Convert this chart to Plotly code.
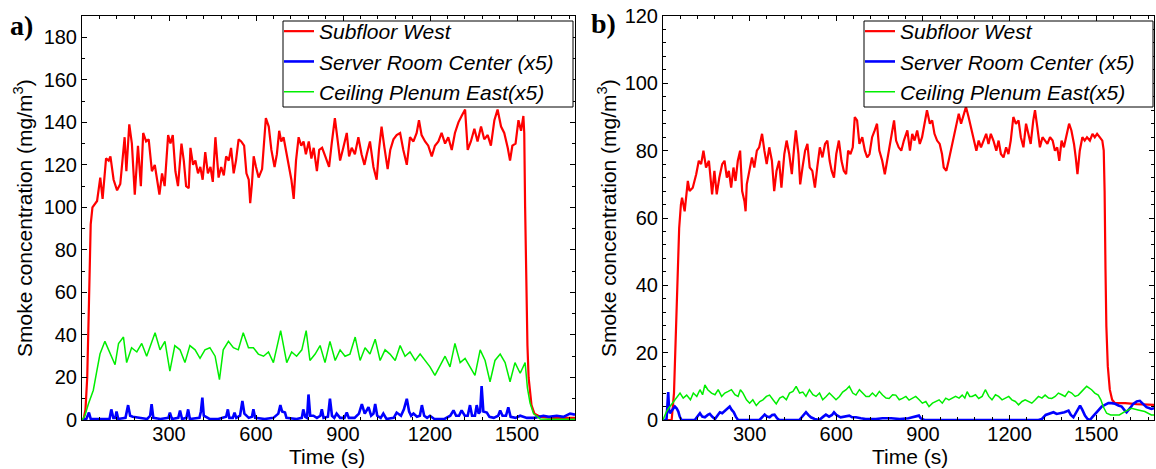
import plotly.graph_objects as go

# ---------------- data ----------------
# Panel a) Subfloor West
a_red_t = [0, 5, 12, 18, 24, 30, 36, 52, 63, 71, 83, 92, 98, 109, 121, 132, 147, 153, 163, 172, 182, 193, 203, 211, 221, 230,
           241, 251, 259, 267, 276, 285, 297, 305, 313, 322, 331, 343, 351, 359, 368, 374, 383, 391, 400, 408, 416, 425, 434,
           443, 451, 460, 471, 480, 489, 497, 506, 514, 523, 531, 540, 549, 559, 567, 575, 580, 586, 592, 600, 609, 621, 628,
           634, 644, 653, 664, 672, 680, 687, 695, 703, 713, 722, 730, 738, 747, 756, 764, 772, 782, 791, 799, 810, 818, 828,
           839, 852, 861, 872, 882, 890, 901, 913, 921, 930, 941, 953, 964, 974, 982, 993, 1005, 1016, 1024, 1033, 1043, 1054,
           1063, 1074, 1085, 1097, 1108, 1120, 1131, 1143, 1154, 1162, 1171, 1183, 1194, 1206, 1217, 1229, 1240, 1252, 1263,
           1275, 1286, 1298, 1309, 1321, 1330, 1341, 1353, 1364, 1376, 1387, 1399, 1410, 1422, 1433, 1445, 1456, 1468, 1476,
           1484, 1495, 1505, 1514, 1522, 1525, 1528, 1532, 1536, 1540, 1550, 1560, 1580, 1620, 1660, 1700]
a_red_v = [0, 0, 5, 20, 55, 92, 100, 103, 114, 104, 123, 122, 124, 113, 108, 111, 133, 117, 139, 130, 106, 129, 110, 135, 131, 132,
           117, 120, 113, 106, 116, 110, 134, 130, 134, 117, 110, 130, 122, 110, 109, 128, 120, 122, 116, 119, 113, 126, 116,
           119, 112, 133, 114, 119, 115, 124, 122, 128, 116, 122, 132, 131, 129, 116, 113, 102, 111, 124, 119, 114, 118, 131,
           142, 138, 127, 119, 125, 136, 131, 133, 127, 119, 113, 104, 122, 133, 129, 131, 125, 131, 123, 128, 117, 127, 128,
           124, 119, 130, 142, 131, 122, 128, 135, 124, 128, 125, 133, 125, 120, 125, 131, 119, 113, 127, 138, 128, 118,
           127, 132, 134, 135, 127, 120, 133, 131, 135, 141, 134, 131, 129, 124, 129, 131, 135, 130, 133,
           127, 135, 140, 143, 146, 127, 131, 137, 131, 138, 132, 134, 129, 141, 146, 138, 135, 128, 122,
           129, 130, 141, 136, 143, 135, 100, 65, 35, 20, 7, 3, 1.5, 1, 1, 1]

# Panel a) Server Room Center (x5)
a_blue_t = [0, 15, 24, 30, 60, 95, 101, 108, 115, 119, 125, 150, 159, 166, 175, 195, 225, 235, 240, 246, 270, 298, 303, 310, 332,
            338, 345, 360, 366, 372, 405, 410, 415, 420, 440, 470, 490, 497, 503, 508, 520, 526, 532, 545, 553, 560, 575, 586,
            591, 597, 630, 660, 677, 684, 690, 700, 705, 740, 758, 763, 770, 776, 781, 787, 798, 810, 822, 827, 833, 848, 855,
            862, 870, 878, 890, 905, 913, 920, 940, 955, 965, 975, 988, 997, 1005, 1011, 1018, 1030, 1039, 1050, 1075, 1085,
            1100, 1110, 1120, 1128, 1135, 1143, 1155, 1165, 1172, 1180, 1190, 1200, 1215, 1250, 1270, 1281, 1290, 1300, 1309,
            1320, 1330, 1338, 1345, 1355, 1361, 1368, 1373, 1378, 1384, 1396, 1405, 1420, 1435, 1442, 1450, 1462, 1470, 1478,
            1495, 1511, 1534, 1560, 1591, 1610, 1637, 1660, 1683, 1700]
a_blue_v = [0, 0.5, 3.5, 0.5, 0.5, 0.5, 5, 1, 1, 4, 0.5, 1, 7, 2, 1.5, 1, 0.5, 2, 7.5, 1, 0.5, 1, 3.5, 0.5, 1,
            4.5, 0.5, 1, 5, 0.5, 1, 4, 10.5, 2, 0.5, 0.5, 1, 1.5, 5, 1, 1, 3.5, 1, 2, 9, 3, 1, 1.5,
            5, 1, 0.5, 1, 3, 7, 4, 3.5, 1, 0.5, 1, 5, 1.5, 1, 12, 2, 2, 1, 2, 5, 1, 1.5, 10,
            2, 1, 3, 1, 1, 3.5, 1, 1, 3, 7.5, 3, 6, 2, 3, 7.5, 2, 1, 3, 0.5, 1, 3.5,
            2, 5, 10, 4, 2, 3, 1.5, 2, 7, 2, 1, 2, 0.5, 0.5, 2, 4.5, 2, 2, 4.5,
            2, 2, 7, 2, 2, 7, 3, 4, 16, 4, 3.5, 1.5, 1, 2, 4.5, 2, 2, 6, 1.5,
            1, 2, 1, 1, 2, 1.5, 2, 1.5, 3, 2.5]

# Panel a) Ceiling Plenum East (x5)
a_green_t = [0, 10, 22, 39, 51, 62, 79, 97, 114, 126, 143, 154, 171, 189, 206, 223, 240, 252, 269, 286, 303, 320, 338, 355, 372,
             390, 407, 424, 441, 459, 474, 487, 505, 522, 539, 556, 574, 591, 608, 626, 643, 660, 685, 706, 723, 740, 758, 773,
             786, 804, 821, 838, 855, 873, 890, 907, 924, 942, 959, 976, 993, 1011, 1028, 1045, 1062, 1080, 1097, 1114, 1131,
             1149, 1166, 1183, 1200, 1217, 1235, 1252, 1269, 1286, 1304, 1321, 1338, 1355, 1373, 1390, 1407, 1424, 1442, 1459,
             1476, 1493, 1511, 1528, 1536, 1545, 1557, 1580, 1620, 1700]
a_green_v = [0, 2, 7.5, 14, 23, 31, 37, 31, 26, 36, 39, 27, 34, 32, 36, 30, 36, 41, 33, 37, 23, 35, 33, 27, 35,
             33, 29, 33, 34, 30, 19, 33, 37, 34, 33, 41, 34, 34, 31, 30, 32, 27, 42, 27, 32, 30, 33, 42,
             28, 31, 35, 27, 37, 28, 33, 30, 31, 39, 28, 34, 31, 38, 28, 33, 31, 28, 35, 30, 32,
             28, 31, 28, 25, 21, 26, 30, 25, 36, 27, 29, 25, 21, 33, 28, 18, 28, 31, 27,
             18, 27, 22, 27, 15, 8, 3, 0.5, 0.3, 0.3]

# Panel b) Subfloor West
b_red_t = [0, 10, 30, 38, 45, 50, 56, 62, 66, 75, 86, 92, 103, 115, 124, 132, 140, 149, 159, 170, 178, 186, 195, 205, 213, 221,
           228, 236, 244, 251, 259, 267, 274, 282, 286, 290, 299, 308, 316, 325, 333, 343, 351, 359, 368, 377, 385, 393, 402,
           410, 420, 428, 437, 446, 454, 460, 469, 475, 483, 492, 500, 508, 517, 526, 534, 543, 552, 561, 569, 577, 584, 592,
           600, 609, 618, 626, 634, 641, 649, 657, 664, 672, 680, 690, 699, 707, 715, 724, 733, 741, 749, 759, 768, 776, 784,
           793, 800, 807, 816, 825, 834, 846, 855, 863, 871, 880, 889, 897, 905, 914, 924, 932, 940, 949, 958, 966, 972, 981,
           989, 997, 1006, 1016, 1024, 1032, 1041, 1049, 1058, 1066, 1075, 1085, 1093, 1101, 1110, 1119, 1127, 1135, 1144,
           1154, 1162, 1170, 1179, 1188, 1196, 1204, 1213, 1222, 1231, 1239, 1248, 1257, 1265, 1273, 1282, 1288, 1296, 1305,
           1314, 1322, 1331, 1340, 1349, 1357, 1365, 1372, 1380, 1388, 1397, 1406, 1414, 1423, 1429, 1435, 1443, 1452, 1460,
           1468, 1478, 1487, 1495, 1503, 1512, 1521, 1526, 1529, 1532, 1535, 1540, 1547, 1555, 1565, 1600, 1640, 1700]
b_red_v = [0, 0, 0, 8, 30, 45, 57, 64, 66, 62, 71, 68, 69, 73, 77, 76, 80, 75, 77, 67, 74, 67, 72, 76, 77, 72,
           74, 69, 75, 71, 77, 80, 68, 65, 62, 70, 74, 78, 75, 80, 81, 85, 80, 76, 81, 77, 68, 74, 77,
           69, 79, 83, 79, 73, 81, 86, 79, 70, 75, 80, 82, 75, 74, 69, 75, 81, 78, 82, 83, 77, 74, 72,
           79, 83, 77, 74, 73, 80, 79, 81, 90, 89, 82, 84, 80, 78, 79, 84, 86, 88, 80, 77, 73, 77, 81,
           86, 89, 83, 81, 80, 83, 86, 80, 85, 83, 86, 82, 84, 88, 92, 88, 89, 85, 83, 82, 79, 75, 74,
           77, 80, 84, 87, 91, 88, 91, 93, 90, 87, 84, 80, 83, 81, 83, 85, 82, 85, 83,
           80, 83, 79, 78, 81, 79, 83, 90, 88, 89, 84, 81, 88, 85, 82, 89, 92, 87, 81,
           84, 83, 82, 84, 83, 80, 81, 77, 83, 81, 85, 88, 86, 82, 78, 73, 80, 84, 83,
           84, 83, 85, 84, 85, 84, 83, 80, 68, 45, 28, 16, 9, 6, 5, 5, 4.7, 4.5]

# Panel b) Server Room Center (x5)
b_blue_t = [0, 12, 15, 18, 21, 24, 32, 41, 47, 53, 58, 64, 110, 120, 128, 136, 145, 155, 162, 170, 180, 190, 197, 205, 214, 222,
            231, 238, 245, 252, 260, 334, 345, 352, 360, 369, 378, 386, 395, 403, 472, 485, 495, 503, 512, 525, 541, 555, 564,
            575, 585, 592, 600, 615, 630, 645, 655, 668, 685, 702, 737, 760, 790, 820, 850, 880, 886, 892, 905, 1300, 1312,
            1325, 1340, 1352, 1363, 1375, 1390, 1404, 1412, 1421, 1432, 1444, 1452, 1461, 1470, 1478, 1488, 1496, 1508, 1519,
            1530, 1542, 1553, 1565, 1577, 1588, 1597, 1605, 1617, 1628, 1640, 1651, 1662, 1674, 1685, 1691, 1700]
b_blue_v = [0, 0, 4, 8.3, 3, 2, 3, 4, 3.5, 2.5, 1, 0, 0, 1, 2, 1, 0.8, 1.5, 1.8, 1, 0.3, 1.5, 2.3, 2, 2.8, 3.5,
            4, 3, 2.3, 1, 0, 0, 1, 1.6, 1, 0.8, 1.5, 1.6, 0.5, 0, 0, 1.5, 2.3, 1.5, 0.8, 0.3, 0, 1, 1.6,
            1, 1.5, 2.3, 1.5, 0.8, 1, 1.3, 0.8, 0.8, 0.5, 0.3, 0.3, 0.5, 0.5, 0.3, 0.5, 1, 1.3, 0.5, 0, 0, 0.3,
            1.5, 2, 2.3, 1.8, 2, 2.3, 2.8, 1.5, 0.8, 2.5, 4.3, 3, 1.3, 0.3, 0, 1, 1.8, 3, 4,
            4.5, 5, 5, 4.8, 4.3, 4, 3, 2.3, 3.5, 4.8, 5.5, 5.7, 4.8, 3.8, 3.5, 3.3, 3.5]

# Panel b) Ceiling Plenum East (x5)
b_green_t = [0, 12, 24, 41, 59, 70, 82, 95, 105, 117, 128, 137, 145, 155, 168, 180, 191, 203, 214, 226, 237, 249, 260, 268, 277,
             289, 300, 311, 323, 335, 346, 358, 369, 381, 392, 404, 415, 427, 438, 450, 461, 473, 484, 495, 507, 519, 530, 542,
             553, 565, 576, 588, 599, 611, 622, 634, 645, 657, 668, 680, 691, 703, 714, 725, 737, 749, 760, 772, 783, 795, 806,
             818, 829, 841, 852, 864, 875, 887, 898, 910, 921, 933, 944, 956, 967, 979, 990, 1002, 1013, 1025, 1036, 1045, 1053,
             1062, 1070, 1082, 1093, 1105, 1116, 1128, 1139, 1151, 1162, 1174, 1185, 1197, 1208, 1220, 1231, 1243, 1254, 1266,
             1277, 1289, 1300, 1312, 1323, 1335, 1346, 1358, 1369, 1381, 1392, 1404, 1415, 1427, 1438, 1450, 1467, 1484, 1495,
             1507, 1516, 1524, 1536, 1550, 1565, 1580, 1599, 1622, 1645, 1668, 1691, 1700]
b_green_v = [0, 2.5, 4, 6, 8, 6.5, 7.4, 6, 8, 7, 9, 7.5, 10.4, 9, 8, 7.5, 9, 7, 8, 8.5, 9, 7.5, 7, 9, 8,
             6, 5, 6, 4.3, 5.5, 6, 7, 7.4, 6, 4.8, 6.5, 7, 6, 8, 8.5, 10, 8, 8.3, 7, 9, 7.5, 7, 8,
             6, 7, 8, 7, 6, 7, 8.3, 9, 10, 8, 7.4, 9, 8, 7, 7, 8, 7, 8.5, 7.4, 6.5, 6.4, 7.5, 7.4,
             6, 6.4, 7, 5.9, 6.5, 7, 6, 5, 5.5, 4, 5, 5.4, 6, 5, 6.5, 6, 6.5, 7, 6.5, 7.4, 6.5, 8.4,
             7, 7, 7.5, 6.4, 7, 9, 7, 6, 7.5, 7, 6, 6.4, 7, 6, 5.5, 4.5, 5.5, 6, 5.5,
             5, 6, 7, 6.5, 7.4, 6.5, 6.4, 7, 8, 7.5, 7, 8.5, 8, 7, 7.4, 8.5, 10, 9, 8,
             7.4, 6, 4, 2, 1.5, 1.5, 1.5, 2.5, 3.5, 3, 2.5, 1.5, 1.5]

series_names = ["Subfloor West", "Server Room Center (x5)", "Ceiling Plenum East(x5)"]
series_colors = ["#ff0000", "#0000ff", "#00ee00"]
series_widths = [2.2, 2.6, 1.5]

x_ticks = [300, 600, 900, 1200, 1500]
ya_ticks = [0, 20, 40, 60, 80, 100, 120, 140, 160, 180]
yb_ticks = [0, 20, 40, 60, 80, 100, 120]

# ---------------- figure ----------------
W, H = 1156, 469
fig = go.Figure()

panel_a = [(a_red_t, a_red_v), (a_blue_t, a_blue_v), (a_green_t, a_green_v)]
panel_b = [(b_red_t, b_red_v), (b_blue_t, b_blue_v), (b_green_t, b_green_v)]

for i, (t, v) in enumerate(panel_a):
    fig.add_trace(go.Scatter(x=t, y=v, mode="lines", name=series_names[i],
                             line=dict(color=series_colors[i], width=series_widths[i]),
                             xaxis="x", yaxis="y", legend="legend"))
for i, (t, v) in enumerate(panel_b):
    fig.add_trace(go.Scatter(x=t, y=v, mode="lines", name=series_names[i],
                             line=dict(color=series_colors[i], width=series_widths[i]),
                             xaxis="x2", yaxis="y2", legend="legend2"))

tickfont = dict(family="Liberation Sans, Arial, sans-serif", size=20, color="black")
common = dict(showline=True, linecolor="black", linewidth=1, mirror="allticks",
              ticks="inside", ticklen=5, tickwidth=1, tickcolor="black",
              showgrid=False, zeroline=False, tickfont=tickfont)

y_dom = [1 - 420 / H, 1 - 16 / H]
fig.update_layout(
    xaxis=dict(domain=[82 / W, 575 / W], anchor="y", range=[0, 1700], tickmode="array", tickvals=x_ticks,
               ticklabelstandoff=-4,
               minor=dict(ticks="inside", ticklen=3, tickcolor="black", dtick=60, tick0=0), **common),
    yaxis=dict(domain=y_dom, anchor="x", range=[0, 190], tickmode="array", tickvals=ya_ticks,
               minor=dict(ticks="inside", ticklen=3, tickcolor="black", dtick=10, tick0=0), **common),
    xaxis2=dict(domain=[663 / W, 1154 / W], anchor="y2", range=[0, 1700], tickmode="array", tickvals=x_ticks,
                ticklabelstandoff=-4,
                minor=dict(ticks="inside", ticklen=3, tickcolor="black", dtick=60, tick0=0), **common),
    yaxis2=dict(domain=y_dom, anchor="x2", range=[0, 120], tickmode="array", tickvals=yb_ticks,
                minor=dict(ticks="inside", ticklen=3, tickcolor="black", dtick=4, tick0=0), **common),
)

# legend frames (white boxes with black border, drawn over the data)
box_a = dict(x0=283 / W, x1=573 / W, y0=1 - 107 / H, y1=1 - 21 / H)
box_b = dict(x0=864 / W, x1=1153 / W, y0=1 - 107 / H, y1=1 - 21 / H)
for bx in (box_a, box_b):
    fig.add_shape(type="rect", xref="paper", yref="paper", layer="above",
                  fillcolor="white", line=dict(color="black", width=1), **bx)

legfont = dict(family="Liberation Sans, Arial, sans-serif", size=21, color="black", style="italic")
leg_common = dict(xanchor="left", yanchor="top", y=1 - 11 / H, borderwidth=0,
                  bgcolor="rgba(0,0,0,0)", font=legfont, tracegroupgap=0, itemwidth=30)
fig.update_layout(legend=dict(x=279 / W, **leg_common), legend2=dict(x=860 / W, **leg_common))

title_font = dict(family="Liberation Sans, Arial, sans-serif", size=21, color="black")
label_font = dict(family="Liberation Serif, Times New Roman, serif", size=28, color="black")
ann = [
    dict(text="<b>a)</b>", x=21 / W, y=1 - 25 / H, font=label_font),
    dict(text="<b>b)</b>", x=603 / W, y=1 - 24 / H, font=label_font),
    dict(text="Smoke concentration (mg/m<sup>3</sup>)", x=23 / W, y=1 - 218 / H, textangle=-90, font=title_font),
    dict(text="Smoke concentration (mg/m<sup>3</sup>)", x=607 / W, y=1 - 218 / H, textangle=-90, font=title_font),
    dict(text="Time (s)", x=327 / W, y=1 - 456 / H, font=title_font),
    dict(text="Time (s)", x=910 / W, y=1 - 456 / H, font=title_font),
]
for a in ann:
    fig.add_annotation(xref="paper", yref="paper", xanchor="center", yanchor="middle", showarrow=False, **a)

fig.update_layout(width=W, height=H, margin=dict(l=0, r=0, t=0, b=0, autoexpand=False),
                  paper_bgcolor="white", plot_bgcolor="white", showlegend=True)

fig.write_html("out.html", config={"responsive": False, "displayModeBar": False},
               post_script="document.body.style.margin='0px';document.body.style.overflow='hidden';")
